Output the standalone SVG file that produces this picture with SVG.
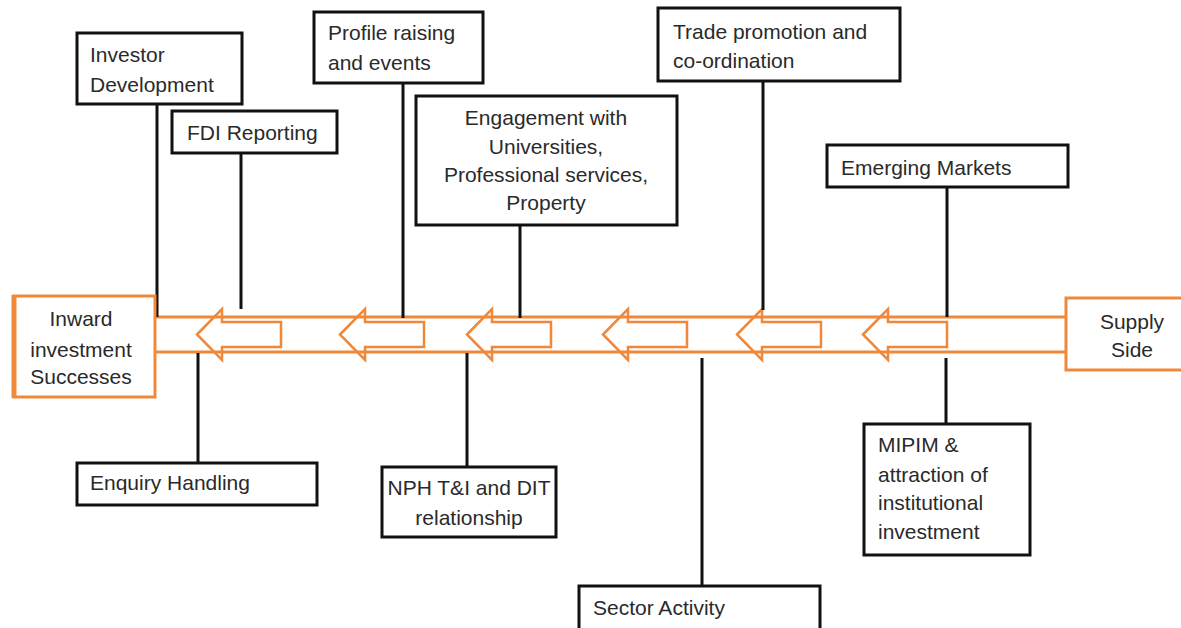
<svg xmlns="http://www.w3.org/2000/svg" width="1181" height="628" viewBox="0 0 1181 628">
<style>
.box{fill:#fff;stroke:#111;stroke-width:3}
.obox{fill:#fff;stroke:#F0883A;stroke-width:3}
.band{fill:none;stroke:#F0883A;stroke-width:3}
.arr{fill:none;stroke:#F0883A;stroke-width:2.5;stroke-linejoin:miter}
.con{stroke:#111;stroke-width:3;fill:none}
text{font-family:"Liberation Sans",Arial,sans-serif;font-size:21px;fill:#2a2a2a}
.c{text-anchor:middle}
</style>
<defs>
<path id="ar" class="arr" d="M0,0 L25,-25.5 L25,-12.5 L84,-12.5 L84,12.5 L25,12.5 L25,25.5 Z"/>
</defs>
<rect width="1181" height="628" fill="#fff"/>
<g id="connectors">
<line class="band" x1="155" y1="317" x2="1066" y2="317"/>
<line class="band" x1="155" y1="352" x2="1066" y2="352"/>
<use href="#ar" x="197" y="334.5"/>
<use href="#ar" x="340" y="334.5"/>
<use href="#ar" x="467" y="334.5"/>
<use href="#ar" x="603" y="334.5"/>
<use href="#ar" x="737" y="334.5"/>
<use href="#ar" x="863" y="334.5"/>
<line class="con" x1="157" y1="104" x2="157" y2="317"/>
<line class="con" x1="241" y1="153" x2="241" y2="309"/>
<line class="con" x1="403" y1="83" x2="403" y2="318"/>
<line class="con" x1="520" y1="225" x2="520" y2="318"/>
<line class="con" x1="763" y1="81" x2="763" y2="310"/>
<line class="con" x1="947" y1="187" x2="947" y2="317"/>
<line class="con" x1="198" y1="353" x2="198" y2="463"/>
<line class="con" x1="467" y1="353" x2="467" y2="467"/>
<line class="con" x1="702" y1="358" x2="702" y2="586"/>
<line class="con" x1="946" y1="358" x2="946" y2="424"/>
</g>
<g id="inward">
<rect class="obox" x="14" y="296" width="141" height="101"/>
<line x1="14" y1="295" x2="14" y2="398" stroke="#F0883A" stroke-width="5"/>
<text class="c" x="81" y="326">Inward</text>
<text class="c" x="81" y="357">investment</text>
<text class="c" x="81" y="384">Successes</text>
</g>
<g id="supply">
<rect class="obox" x="1066" y="298" width="118" height="72"/>
<text class="c" x="1132" y="329">Supply</text>
<text class="c" x="1132" y="357">Side</text>
</g>
<g id="investor">
<rect class="box" x="77" y="33" width="165" height="71"/>
<text x="90" y="62">Investor</text>
<text x="90" y="92">Development</text>
</g>
<g id="fdi">
<rect class="box" x="172" y="111" width="165" height="42"/>
<text x="187" y="140">FDI Reporting</text>
</g>
<g id="profile">
<rect class="box" x="314" y="12" width="169" height="71"/>
<text x="328" y="40">Profile raising</text>
<text x="328" y="70">and events</text>
</g>
<g id="engagement">
<rect class="box" x="416" y="96" width="261" height="129"/>
<text class="c" x="546" y="125">Engagement with</text>
<text class="c" x="546" y="154">Universities,</text>
<text class="c" x="546" y="182">Professional services,</text>
<text class="c" x="546" y="210">Property</text>
</g>
<g id="trade">
<rect class="box" x="658" y="8" width="242" height="73"/>
<text x="673" y="39">Trade promotion and</text>
<text x="673" y="68">co-ordination</text>
</g>
<g id="emerging">
<rect class="box" x="827" y="145" width="241" height="42"/>
<text x="841" y="175">Emerging Markets</text>
</g>
<g id="enquiry">
<rect class="box" x="77" y="463" width="240" height="42"/>
<text x="90" y="490">Enquiry Handling</text>
</g>
<g id="nph">
<rect class="box" x="382" y="467" width="174" height="70"/>
<text class="c" x="469" y="495">NPH T&amp;I and DIT</text>
<text class="c" x="469" y="525">relationship</text>
</g>
<g id="sector">
<rect class="box" x="579" y="586" width="241" height="50"/>
<text x="593" y="615">Sector Activity</text>
</g>
<g id="mipim">
<rect class="box" x="864" y="424" width="166" height="131"/>
<text x="878" y="452">MIPIM &amp;</text>
<text x="878" y="482">attraction of</text>
<text x="878" y="510">institutional</text>
<text x="878" y="539">investment</text>
</g>
</svg>
